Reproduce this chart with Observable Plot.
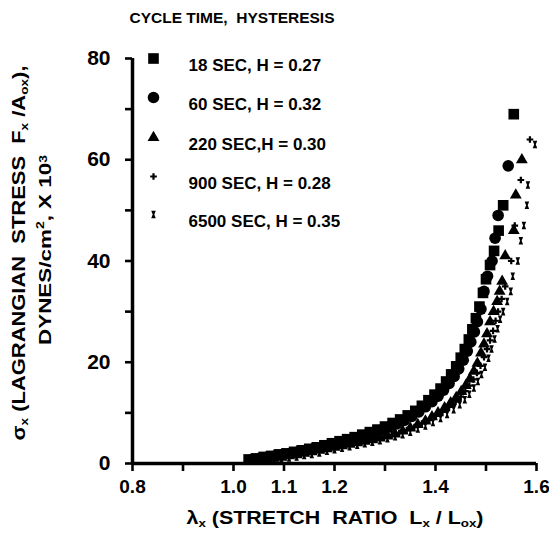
<!DOCTYPE html>
<html><head><meta charset="utf-8">
<script src="https://cdn.jsdelivr.net/npm/d3@7"></script>
<script src="https://cdn.jsdelivr.net/npm/@observablehq/plot@0.6"></script>
<style>
body{margin:0;background:#fff;}
#chart{width:549px;height:537px;}
</style></head><body><div id="chart"></div>
<script>
// ---- data ----
const seriesLabels = ["18 SEC, H = 0.27", "60 SEC, H = 0.32", "220 SEC,H = 0.30", "900 SEC, H = 0.28", "6500 SEC, H = 0.35"];
const xTicks = [0.8, 0.9, 1.0, 1.1, 1.2, 1.3, 1.4, 1.5, 1.6];
const xTickLabels = ["0.8", "", "1.0", "1.1", "1.2", "", "1.4", "", "1.6"];
const yTicks = [0, 10, 20, 30, 40, 50, 60, 70, 80];
const yTickLabels = ["0", "", "20", "", "40", "", "60", "", "80"];

// [stretch ratio, stress]
const s18 = [[1.030,0.8],[1.045,1.0],[1.060,1.3],[1.075,1.5],[1.090,1.8],[1.105,2.0],[1.120,2.3],[1.135,2.6],[1.150,2.9],[1.165,3.2],[1.180,3.6],[1.195,4.0],[1.210,4.4],[1.225,4.8],[1.240,5.2],[1.255,5.7],[1.270,6.2],[1.285,6.7],[1.300,7.3],[1.315,8.0],[1.330,8.7],[1.345,9.5],[1.360,10.4],[1.373,11.4],[1.386,12.5],[1.398,13.6],[1.410,14.8],[1.421,16.2],[1.431,17.6],[1.441,19.2],[1.450,20.9],[1.458,22.6],[1.466,24.5],[1.473,26.5],[1.480,28.7],[1.487,31],[1.494,33.7],[1.500,36.4],[1.508,39.2],[1.516,42],[1.525,46],[1.534,51],[1.555,69]];
const s60 = [[1.038,0.9],[1.053,1.1],[1.068,1.3],[1.083,1.5],[1.098,1.8],[1.113,2.0],[1.128,2.3],[1.143,2.6],[1.158,2.9],[1.173,3.2],[1.188,3.6],[1.203,3.9],[1.218,4.3],[1.233,4.7],[1.248,5.1],[1.263,5.6],[1.278,6.1],[1.293,6.6],[1.308,7.2],[1.323,7.8],[1.338,8.5],[1.353,9.3],[1.367,10.2],[1.380,11.2],[1.393,12.2],[1.405,13.3],[1.416,14.5],[1.427,15.8],[1.437,17.2],[1.446,18.7],[1.455,20.4],[1.463,22.2],[1.470,24],[1.477,26],[1.483,28],[1.490,30.5],[1.496,34],[1.503,37],[1.512,40],[1.518,44.5],[1.524,49],[1.544,58.8]];
const s220 = [[1.050,0.6],[1.065,0.8],[1.080,1.0],[1.095,1.2],[1.110,1.5],[1.125,1.7],[1.140,2.0],[1.155,2.3],[1.170,2.6],[1.185,2.9],[1.200,3.2],[1.215,3.5],[1.230,3.8],[1.245,4.1],[1.260,4.4],[1.275,4.7],[1.290,5.0],[1.305,5.4],[1.320,5.8],[1.335,6.4],[1.350,7.0],[1.365,7.7],[1.380,8.4],[1.393,9.2],[1.405,10],[1.418,11],[1.430,12],[1.441,13],[1.451,14.2],[1.460,15.4],[1.468,16.7],[1.476,18.2],[1.483,19.8],[1.490,21.8],[1.496,23.6],[1.502,25.6],[1.508,28],[1.515,30],[1.522,32],[1.527,34],[1.532,36],[1.538,41],[1.555,46],[1.559,53],[1.571,60]];
const s900 = [[1.058,0.7],[1.073,0.9],[1.088,1.1],[1.103,1.3],[1.118,1.6],[1.133,1.8],[1.148,2.1],[1.163,2.4],[1.178,2.7],[1.193,3.0],[1.208,3.3],[1.223,3.6],[1.238,3.9],[1.253,4.2],[1.268,4.5],[1.283,4.8],[1.298,5.2],[1.313,5.6],[1.328,6.0],[1.343,6.6],[1.358,7.2],[1.373,7.9],[1.388,8.6],[1.401,9.4],[1.414,10.2],[1.427,11.2],[1.440,12.2],[1.450,13.2],[1.459,14.3],[1.467,15.4],[1.475,16.6],[1.482,17.9],[1.489,19.3],[1.496,21],[1.502,22.6],[1.508,24.3],[1.514,26.2],[1.519,28.2],[1.524,30],[1.531,32.5],[1.538,35],[1.550,40],[1.557,47],[1.569,56],[1.587,64]];
const s6500 = [[1.065,0.5],[1.080,0.7],[1.095,0.9],[1.110,1.1],[1.125,1.3],[1.140,1.6],[1.155,1.8],[1.170,2.1],[1.185,2.4],[1.200,2.7],[1.215,3.0],[1.230,3.3],[1.245,3.6],[1.260,3.9],[1.275,4.2],[1.290,4.5],[1.305,4.9],[1.320,5.3],[1.335,5.7],[1.350,6.2],[1.365,6.8],[1.380,7.4],[1.395,8.1],[1.410,8.9],[1.423,9.7],[1.436,10.6],[1.448,11.6],[1.458,12.6],[1.467,13.7],[1.476,14.9],[1.484,16.2],[1.491,17.6],[1.498,19],[1.505,20.8],[1.511,22.6],[1.517,24.6],[1.523,26.6],[1.528,28.5],[1.534,30],[1.542,32],[1.549,34],[1.553,37],[1.563,40],[1.569,44],[1.575,47],[1.581,51],[1.583,55],[1.597,63]];

// ---- styles ----
const FONT = "'Liberation Sans','Arial',sans-serif";
const hourglass = {
  draw(ctx, size) {
    const s = Math.sqrt(size), w = s * 0.75, h = s * 1.25;
    ctx.moveTo(-w/2, -h/2); ctx.lineTo(w/2, -h/2); ctx.lineTo(w*0.18, 0);
    ctx.lineTo(w/2, h/2); ctx.lineTo(-w/2, h/2); ctx.lineTo(-w*0.18, 0); ctx.closePath();
  }
};
const seriesData = [s18, s60, s220, s900, s6500];
const symbols = ["square", "circle", "triangle", "cross", hourglass];
const radii = [6.0, 5.8, 4.4, 2.8, 3.4];
const legendDy = [0, 39, 79, 118, 156];

const marks = [];
marks.push(Plot.axisX({ticks: xTicks, tickFormat: (d, i) => xTickLabels[i], tickSize: 8, tickPadding: 8,
  fontSize: 19, fontWeight: "bold", stroke: "black", strokeWidth: 2.6, label: null}));
marks.push(Plot.axisY({ticks: yTicks, tickFormat: (d, i) => yTickLabels[i], tickSize: 7, tickPadding: 15,
  fontSize: 21, fontWeight: "bold", stroke: "black", strokeWidth: 2.6, label: null}));
marks.push(Plot.ruleY([0], {stroke: "black", strokeWidth: 3.5}));
marks.push(Plot.ruleX([0.8], {stroke: "black", strokeWidth: 3.5}));
seriesData.forEach((s, i) => {
  marks.push(Plot.dot(s, {x: d => d[0], y: d => d[1], symbol: symbols[i], r: radii[i], fill: "black", stroke: "none"}));
});
seriesLabels.forEach((lab, i) => {
  marks.push(Plot.dot([lab], {frameAnchor: "top-left", dx: 21, dy: legendDy[i], symbol: symbols[i], r: radii[i], fill: "black", stroke: "none"}));
  marks.push(Plot.text([lab], {text: d => d, frameAnchor: "top-left", dx: 56, dy: legendDy[i], textAnchor: "start", fontSize: 17, fontWeight: "bold"}));
});

const svg = Plot.plot({
  width: 549, height: 537,
  marginLeft: 132, marginRight: 13, marginTop: 58, marginBottom: 74,
  x: {domain: [0.8, 1.6]},
  y: {domain: [0, 80]},
  style: {fontFamily: FONT, background: "white", color: "black", overflow: "visible"},
  marks
});

// ---- titles & axis labels (with sub/superscripts) ----
const sel = d3.select(svg);
function addText(x, y, parts, opts) {
  const t = sel.append("text")
    .attr("x", x).attr("y", y)
    .attr("text-anchor", "middle")
    .attr("dominant-baseline", "middle")
    .attr("font-family", FONT).attr("font-weight", "bold")
    .attr("font-size", opts.size).attr("fill", "black");
  if (opts.rotate) t.attr("transform", `rotate(-90 ${x} ${y})`);
  if (opts.len) t.attr("textLength", opts.len).attr("lengthAdjust", "spacingAndGlyphs");
  let cur = 0;
  parts.forEach(([str, shift]) => {
    const sp = t.append("tspan").text(str);
    const sh = shift || 0;
    if (sh !== cur) sp.attr("dy", sh - cur);
    if (sh !== 0) sp.attr("font-size", opts.size * 0.62);
    cur = sh;
  });
}
addText(232, 19, [["CYCLE TIME,  HYSTERESIS"]], {size: 15, len: 205});
addText(335, 519, [["λ"], ["x", 5], [" (STRETCH  RATIO  L"], ["x", 5], [" / L"], ["ox", 5], [")"]], {size: 19, len: 297});
addText(20, 253, [["σ"], ["x", 5], [" (LAGRANGIAN  STRESS  F"], ["x", 5], [" /A"], ["ox", 5], ["),"]], {size: 18, len: 375, rotate: true});
addText(47, 250, [["DYNES/cm"], ["2", -6], [", X 10"], ["3", -3]], {size: 17, len: 190, rotate: true});

document.getElementById("chart").appendChild(svg);
</script>
</body></html>
